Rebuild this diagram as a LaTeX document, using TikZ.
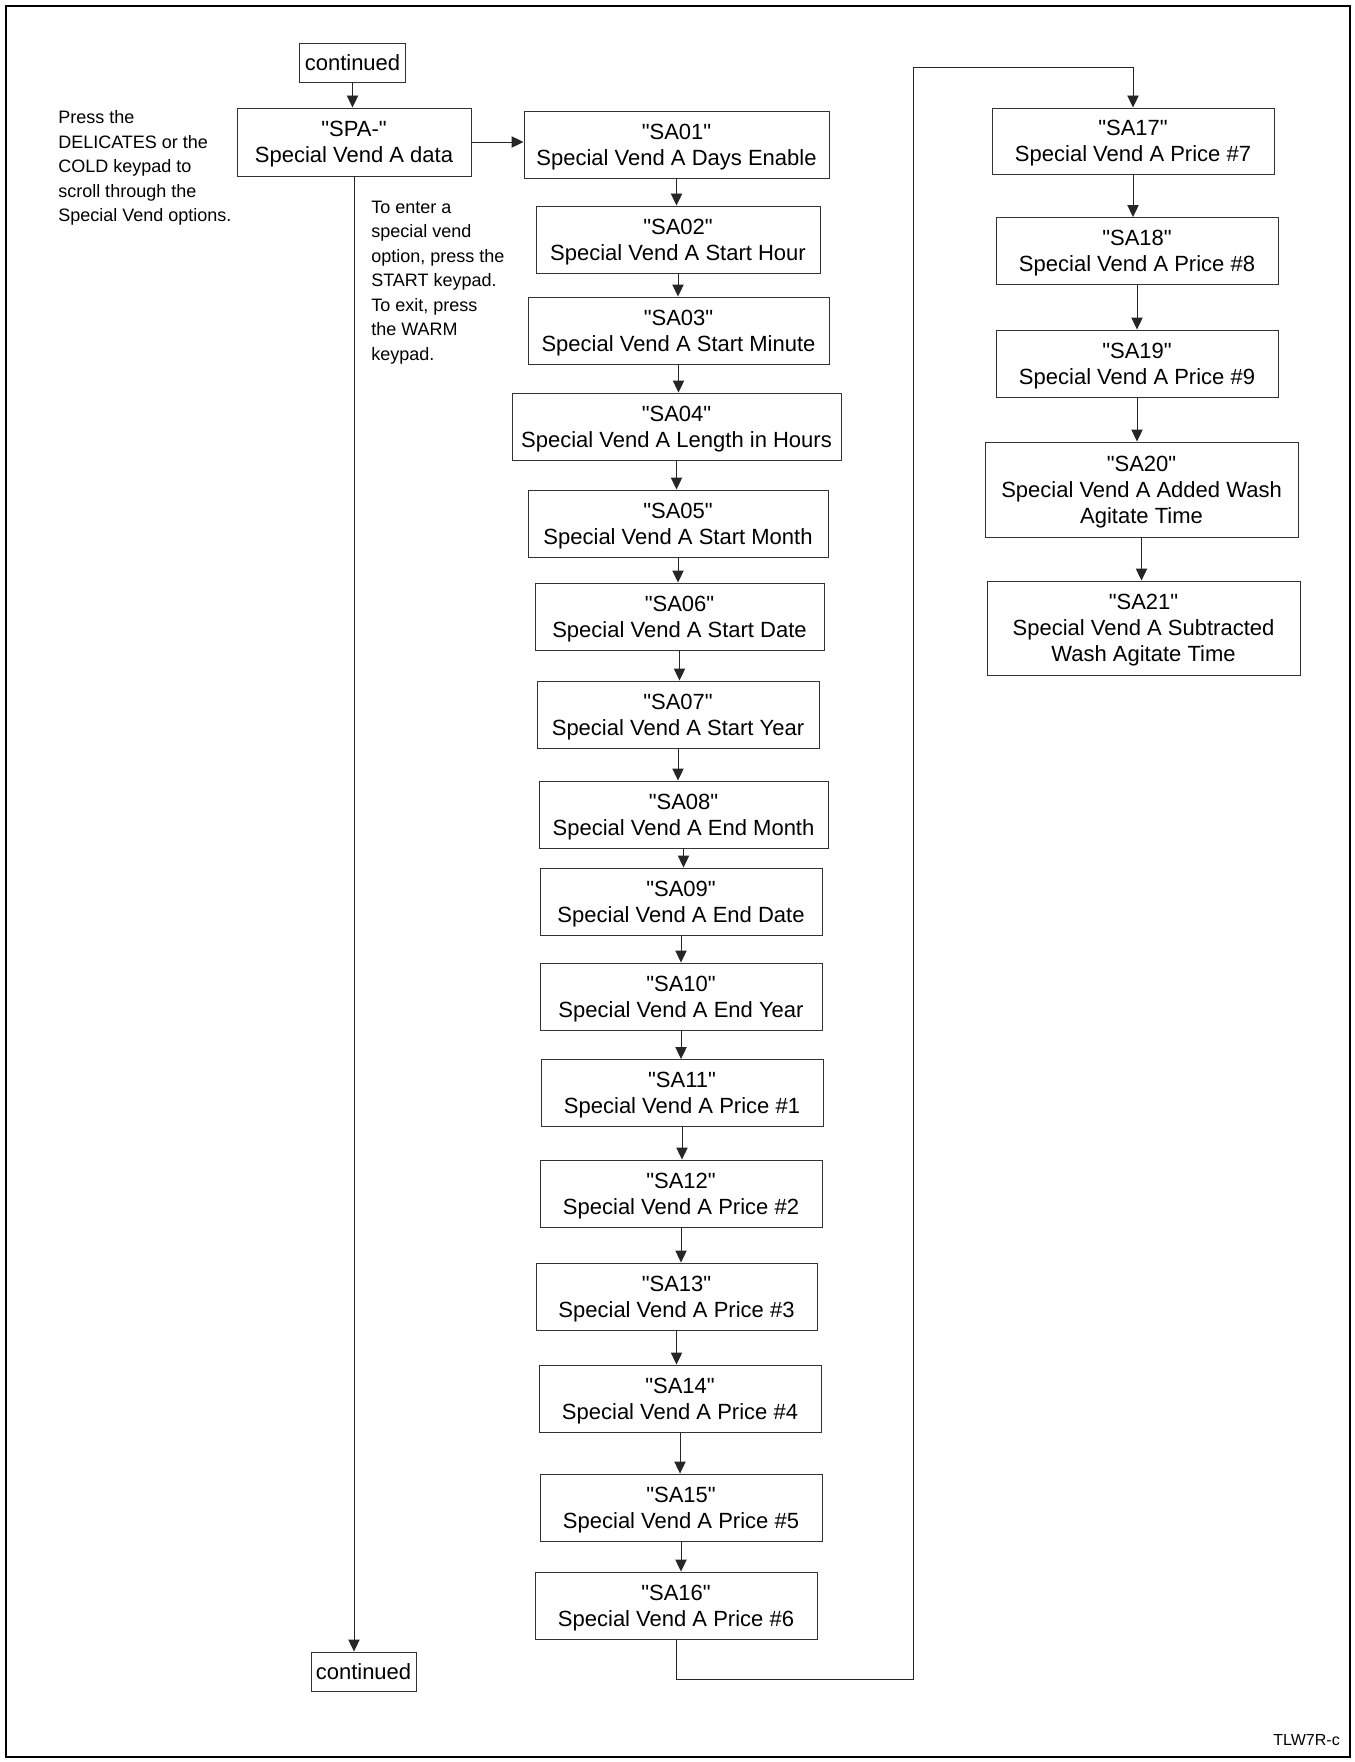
\documentclass[tikz,border=0pt]{standalone}
\usepackage{fontspec}
\setmainfont{Liberation Sans}[Ligatures=TeXOff]
\usepackage{tikz}
\usetikzlibrary{arrows.meta}

\begin{document}
\begin{tikzpicture}[x=0.75pt,y=0.75pt,yscale=-1,xscale=1,
  vendbox/.style={draw=black!80, line width=0.7pt, align=center, inner sep=0pt, minimum height=50.25pt, text depth=-6.5pt, font=\fontsize{16.5pt}{19.6pt}\selectfont},
  contbox/.style={vendbox, text depth=0pt},
  boxw/.style={minimum width=#1*0.75pt},
  boxh/.style={minimum height=#1*0.75pt},
  notetext/.style={align=left, inner sep=0pt, anchor=north west, font=\fontsize{13.5pt}{18.4pt}\selectfont},
  flowline/.style={draw=black!85, line width=0.7pt},
  flowarrow/.style={flowline, -{Triangle[length=9pt,width=8.5pt]}}]
\useasboundingbox (0,0) rectangle (1354,1762);

%Frame
\draw [line width=2pt] (6,6) rectangle (1350,1757);

% Text Node
\node [contbox, boxw=106, boxh=39] (cont1) at (352.5,62.5) {continued};
% Text Node
\node [vendbox, boxw=234, boxh=68] (SPA) at (354,142) {"SPA-"\\Special Vend A data};
% Text Node
\node [contbox, boxw=105, boxh=39] (cont2) at (363.5,1671.5) {continued};

% Text Node
\node [vendbox, boxw=305] (SA01) at (676.5,144.5) {"SA01"\\Special Vend A Days Enable};
% Text Node
\node [vendbox, boxw=284] (SA02) at (678,239.5) {"SA02"\\Special Vend A Start Hour};
% Text Node
\node [vendbox, boxw=301] (SA03) at (678.5,330.5) {"SA03"\\Special Vend A Start Minute};
% Text Node
\node [vendbox, boxw=329] (SA04) at (676.5,426.5) {"SA04"\\Special Vend A Length in Hours};
% Text Node
\node [vendbox, boxw=300] (SA05) at (678,523.5) {"SA05"\\Special Vend A Start Month};
% Text Node
\node [vendbox, boxw=289] (SA06) at (679.5,616.5) {"SA06"\\Special Vend A Start Date};
% Text Node
\node [vendbox, boxw=282] (SA07) at (678,714.5) {"SA07"\\Special Vend A Start Year};
% Text Node
\node [vendbox, boxw=289] (SA08) at (683.5,814.5) {"SA08"\\Special Vend A End Month};
% Text Node
\node [vendbox, boxw=282] (SA09) at (681,901.5) {"SA09"\\Special Vend A End Date};
% Text Node
\node [vendbox, boxw=282] (SA10) at (681,996.5) {"SA10"\\Special Vend A End Year};
% Text Node
\node [vendbox, boxw=282] (SA11) at (682,1093) {"SA11"\\Special Vend A Price \#1};
% Text Node
\node [vendbox, boxw=282] (SA12) at (681,1193.5) {"SA12"\\Special Vend A Price \#2};
% Text Node
\node [vendbox, boxw=281] (SA13) at (676.5,1296.5) {"SA13"\\Special Vend A Price \#3};
% Text Node
\node [vendbox, boxw=282] (SA14) at (680,1398.5) {"SA14"\\Special Vend A Price \#4};
% Text Node
\node [vendbox, boxw=282] (SA15) at (681,1507.5) {"SA15"\\Special Vend A Price \#5};
% Text Node
\node [vendbox, boxw=282] (SA16) at (676,1605.5) {"SA16"\\Special Vend A Price \#6};

% Text Node
\node [vendbox, boxw=282, boxh=66] (SA17) at (1133,141) {"SA17"\\Special Vend A Price \#7};
% Text Node
\node [vendbox, boxw=282] (SA18) at (1137,251) {"SA18"\\Special Vend A Price \#8};
% Text Node
\node [vendbox, boxw=282] (SA19) at (1137,363.5) {"SA19"\\Special Vend A Price \#9};
% Text Node
\node [vendbox, boxw=313, boxh=95] (SA20) at (1141.5,489.5) {"SA20"\\Special Vend A Added Wash\\Agitate Time};
% Text Node
\node [vendbox, boxw=313, boxh=94] (SA21) at (1143.5,628) {"SA21"\\Special Vend A Subtracted\\Wash Agitate Time};

% Text Node
\node [notetext] (scrollnote) at (58,110.5) {Press the\\DELICATES or the\\COLD keypad to\\scroll through the\\Special Vend options.};
% Text Node
\node [notetext] (enternote) at (371,200.4) {To enter a\\special vend\\option, press the\\START keypad.\\To exit, press\\the WARM\\keypad.};
% Text Node
\node [anchor=base east, inner sep=0pt, font=\fontsize{12pt}{14pt}\selectfont] (figid) at (1340,1745) {TLW7R-c};

%Straight Lines
\draw [flowarrow] (cont1.south) -- (cont1.south |- SPA.north);
\draw [flowarrow] (SPA.east) -- (SPA.east -| SA01.west);
\draw [flowarrow] (SPA.south) -- (SPA.south |- cont2.north);

%Straight Lines
\draw [flowarrow] (SA01.south) -- (SA01.south |- SA02.north);
\draw [flowarrow] (SA02.south) -- (SA02.south |- SA03.north);
\draw [flowarrow] (SA03.south) -- (SA03.south |- SA04.north);
\draw [flowarrow] (SA04.south) -- (SA04.south |- SA05.north);
\draw [flowarrow] (SA05.south) -- (SA05.south |- SA06.north);
\draw [flowarrow] (SA06.south) -- (SA06.south |- SA07.north);
\draw [flowarrow] (SA07.south) -- (SA07.south |- SA08.north);
\draw [flowarrow] (SA08.south) -- (SA08.south |- SA09.north);
\draw [flowarrow] (SA09.south) -- (SA09.south |- SA10.north);
\draw [flowarrow] (SA10.south) -- (SA10.south |- SA11.north);
\draw [flowarrow] (SA11.south) -- (SA11.south |- SA12.north);
\draw [flowarrow] (SA12.south) -- (SA12.south |- SA13.north);
\draw [flowarrow] (SA13.south) -- (SA13.south |- SA14.north);
\draw [flowarrow] (SA14.south) -- (SA14.south |- SA15.north);
\draw [flowarrow] (SA15.south) -- (SA15.south |- SA16.north);

%Straight Lines
\coordinate (loopB) at (913,1679);
\coordinate (loopT) at (913,67);
\draw [flowarrow] (SA16.south) |- (loopB) -- (loopT) -| (SA17.north);

%Straight Lines
\draw [flowarrow] (SA17.south) -- (SA17.south |- SA18.north);
\draw [flowarrow] (SA18.south) -- (SA18.south |- SA19.north);
\draw [flowarrow] (SA19.south) -- (SA19.south |- SA20.north);
\draw [flowarrow] (SA20.south) -- (SA20.south |- SA21.north);
\end{tikzpicture}
\end{document}
